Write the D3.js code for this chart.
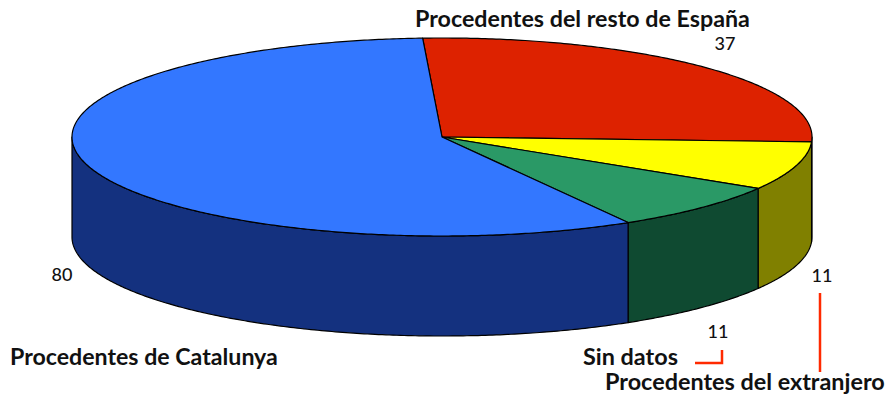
<!DOCTYPE html>
<html>
<head>
<meta charset="utf-8">
<script src="https://cdn.jsdelivr.net/npm/d3@7"></script>
<style>
  html, body { margin: 0; padding: 0; background: #fff; }
  svg { display: block; }
</style>
</head>
<body>
<svg id="chart" width="888" height="400"></svg>
<script>
// Origin of students, drawn as a 3D pie
const categories = [
  "Procedentes del resto de España",
  "Procedentes del extranjero",
  "Sin datos",
  "Procedentes de Catalunya"
];
const values = [37, 11, 11, 80];
const topColors = ["#DD2200", "#FFFF00", "#2A9966", "#3377FF"];
const sideColors = ["#8A1500", "#808000", "#0F4A31", "#14317F"];

// Ellipse geometry of the disc
const cx = 442, cy = 137, rx = 370, ry = 99, depth = 100;
const startDeg = -3;

const svg = d3.select("#chart");

const pie = d3.pie().sort(null).value(d => d)
  .startAngle(startDeg * Math.PI / 180)
  .endAngle(startDeg * Math.PI / 180 + 2 * Math.PI);
const arcs = pie(values);

const px = t => cx + rx * Math.sin(t);
const py = (t, dz = 0) => cy - ry * Math.cos(t) + dz;

function sample(a0, a1) {
  const n = Math.max(2, Math.ceil(Math.abs(a1 - a0) / 0.01));
  return d3.range(n + 1).map(i => a0 + (a1 - a0) * i / n);
}

const line = d3.line();

// Front sides (visible between 90° and 270°)
const g = svg.append("g");
arcs.forEach((a, i) => {
  const lo = Math.max(a.startAngle, Math.PI / 2);
  const hi = Math.min(a.endAngle, 3 * Math.PI / 2);
  if (hi <= lo) return;
  const ts = sample(lo, hi);
  const pts = ts.map(t => [px(t), py(t)])
    .concat(ts.slice().reverse().map(t => [px(t), py(t, depth)]));
  g.append("path")
    .attr("d", line(pts) + "Z")
    .attr("fill", sideColors[i])
    .attr("stroke", "#000")
    .attr("stroke-width", 1.2)
    .attr("stroke-linejoin", "round");
});

// Top faces
arcs.forEach((a, i) => {
  const ts = sample(a.startAngle, a.endAngle);
  const pts = [[cx, cy]].concat(ts.map(t => [px(t), py(t)]));
  g.append("path")
    .attr("d", line(pts) + "Z")
    .attr("fill", topColors[i])
    .attr("stroke", "#000")
    .attr("stroke-width", 1.2)
    .attr("stroke-linejoin", "round");
});

// Leader lines
const leaderColor = "#FF2A00";
svg.append("path")
  .attr("d", line([[695, 363], [722, 363], [722, 350]]))
  .attr("fill", "none").attr("stroke", leaderColor).attr("stroke-width", 2.5);
svg.append("path")
  .attr("d", line([[820, 293], [820, 372]]))
  .attr("fill", "none").attr("stroke", leaderColor).attr("stroke-width", 2.5);

// Category labels, sized to fit their slots
const nameLayout = [
  { x: 415, y: 27, w: 335 },
  { x: 605, y: 390, w: 280 },
  { x: 583, y: 365, w: 95 },
  { x: 10, y: 365, w: 268 }
];
categories.forEach((name, i) => {
  const L = nameLayout[i];
  const t = svg.append("text")
    .attr("x", L.x).attr("y", L.y)
    .attr("font-family", "Lato, 'Open Sans', sans-serif")
    .attr("font-weight", "bold")
    .attr("font-size", 18)
    .attr("fill", "#111")
    .text(name);
  const w = t.node().getComputedTextLength();
  t.attr("font-size", 18 * L.w / w);
});

// Value labels
const valueLayout = [
  { x: 725, y: 50 },
  { x: 822, y: 282 },
  { x: 718, y: 338 },
  { x: 62, y: 281 }
];
values.forEach((v, i) => {
  svg.append("text")
    .attr("x", valueLayout[i].x).attr("y", valueLayout[i].y)
    .attr("text-anchor", "middle")
    .attr("font-family", "Lato, 'Open Sans', sans-serif")
    .attr("font-weight", 500)
    .attr("font-size", 18)
    .attr("fill", "#111")
    .text(v);
});
</script>
</body>
</html>
